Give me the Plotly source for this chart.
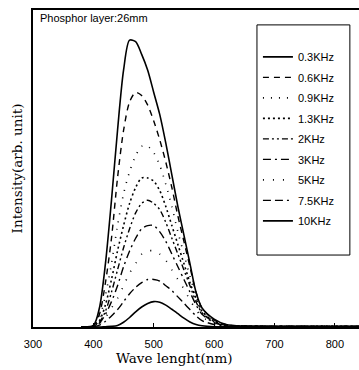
import plotly.graph_objects as go

wavelength = [380, 400, 410, 420, 430, 440, 450, 460, 470, 480, 490, 500, 510,
              520, 530, 540, 550, 560, 570, 580, 600, 620, 650, 700, 800, 840]

series_names = ["0.3KHz", "0.6KHz", "0.9KHz", "1.3KHz", "2KHz", "3KHz", "5KHz", "7.5KHz", "10KHz"]

i_03 = [0, 0.5, 6, 20, 40, 62, 81, 90.5, 90, 86, 81, 74, 67, 58, 48, 38, 29, 20, 11, 6, 2.5, 0.8, 0.3, 0.2, 0.2, 0.2]
i_06 = [0, 0.4, 4, 14, 28, 47, 62, 71, 74, 73, 70, 65, 59, 52, 44, 35, 27, 19, 11, 6, 2.2, 0.7, 0.3, 0.2, 0.2, 0.2]
i_09 = [0, 0.3, 3, 10, 20, 32, 42, 49, 54, 57, 57, 55, 51, 45, 38, 30, 23, 16, 10, 5, 2, 0.6, 0.3, 0.2, 0.2, 0.2]
i_13 = [0, 0.3, 2, 7, 15, 24, 32, 39, 44, 47, 47, 46, 43, 38, 32, 26, 20, 14, 9, 5, 1.8, 0.6, 0.3, 0.2, 0.2, 0.2]
i_2 = [0, 0.2, 1.5, 5, 11, 18, 25, 31, 36, 39, 40, 39, 37, 33, 28, 23, 18, 13, 8, 4.5, 1.6, 0.5, 0.3, 0.2, 0.2, 0.2]
i_3 = [0, 0.2, 1.2, 4, 8, 13, 19, 24, 28, 31, 32, 32, 30, 27, 23, 19, 15, 11, 7, 4, 1.4, 0.5, 0.3, 0.2, 0.2, 0.2]
i_5 = [0, 0.2, 1, 3, 6, 9, 13, 17, 20, 23, 24, 24, 23, 21, 18, 15, 12, 8.5, 5.5, 3.2, 1.2, 0.4, 0.2, 0.2, 0.2, 0.2]
i_75 = [0, 0.1, 0.6, 1.8, 3.5, 5.5, 8, 10.5, 12.5, 14, 15, 15, 14.5, 13, 11.5, 9.5, 7.5, 5.5, 3.5, 2, 0.8, 0.3, 0.2, 0.2, 0.2, 0.2]
i_10 = [0, 0, 0, 0.1, 0.2, 0.5, 1.5, 3, 4.8, 6.3, 7.4, 8, 7.8, 6.9, 5.6, 4.2, 2.8, 1.6, 0.8, 0.4, 0.1, 0.1, 0.1, 0.1, 0.1, 0.1]

tick_vals = [300, 400, 500, 600, 700, 800]

all_series = [i_03, i_06, i_09, i_13, i_2, i_3, i_5, i_75, i_10]
dashes = ["solid", "6px,5px", "1px,7px", "2px,3px", "6px,3px,2px,3px,2px,3px",
          "8px,4px,2px,4px", "1px,9px", "8px,4px,8px,4px,2px,4px", "solid"]
widths = [1.6, 1.4, 1.6, 1.6, 1.4, 1.4, 1.6, 1.4, 1.6]

serif = "DejaVu Serif, Liberation Serif, serif"
sans = "Liberation Sans, Arial, sans-serif"

fig = go.Figure()
for k, (name, vals) in enumerate(zip(series_names, all_series)):
    fig.add_trace(go.Scatter(
        x=wavelength, y=vals, mode="lines", name=name,
        legendgroup=name,
        line=dict(color="black", width=widths[k], dash=dashes[k], shape="spline", smoothing=0.8),
    ))

fig.update_layout(
    width=359, height=370,
    margin=dict(l=33, r=0, t=10, b=43),
    paper_bgcolor="white", plot_bgcolor="white",
    font=dict(family=sans, color="black", size=11),
    showlegend=True,
    legend=dict(x=0.69, y=0.898, xanchor="left", yanchor="top",
                bgcolor="rgba(0,0,0,0)", borderwidth=0,
                font=dict(size=11, family=sans),
                tracegroupgap=1.5),
    xaxis=dict(range=[300, 840], tickvals=tick_vals, ticks="inside", ticklen=4,
               tickcolor="black", showline=True, linecolor="black", linewidth=1.5,
               mirror=True, showgrid=False, zeroline=False,
               ticklabelstandoff=6,
               tickfont=dict(size=11, family=sans)),
    yaxis=dict(range=[0, 100], showticklabels=False, ticks="", showline=True,
               linecolor="black", linewidth=1.5, mirror=False, showgrid=False,
               zeroline=False,
               title=dict(text="Intensity(arb. unit)", standoff=6,
                          font=dict(family=serif, size=13.5))),
    shapes=[dict(type="rect", xref="paper", yref="paper", x0=0.687, x1=0.972, y0=0.227, y1=0.953,
                 line=dict(color="black", width=1))],
    annotations=[
        dict(text="Phosphor layer:26mm", xref="paper", yref="paper", x=0.015, y=1.0,
             xanchor="left", yanchor="top", showarrow=False,
             font=dict(size=11, family=sans)),
        dict(text="Wave lenght(nm)", xref="x", yref="paper", x=533, y=-0.066,
             xanchor="center", yanchor="top", showarrow=False,
             font=dict(size=13.5, family=serif)),
    ],
)

fig.write_html("out.html", config={"displayModeBar": False},
               post_script="document.body.style.margin='0';document.body.style.overflow='hidden';")
